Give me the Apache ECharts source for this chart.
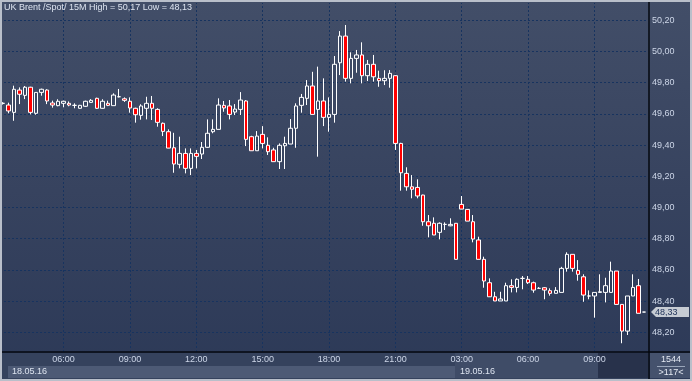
<!DOCTYPE html>
<html><head><meta charset="utf-8">
<script src="https://cdn.jsdelivr.net/npm/echarts@6/dist/echarts.min.js"></script>
<style>
html,body{margin:0;padding:0;background:#b9bfca;}
#c{width:692px;height:381px;background:linear-gradient(to bottom,#424e68 0%,#37435f 50%,#2c3957 100%);}
</style></head><body><div id="c"></div>
<script>
const chartTitle = 'UK Brent /Spot/ 15M High = 50,17 Low = 48,13';
const sessions = [{date:'18.05', start:'03:15', bars:82}, {date:'19.05', start:'02:45', bars:35}];
const dayLabels = ['18.05.16', '19.05.16'];
const timeTickIdx = [11, 23, 35, 47, 59, 71, 83, 95, 107];
const priceTicks = [48.2, 48.4, 48.6, 48.8, 49.0, 49.2, 49.4, 49.6, 49.8, 50.0, 50.2];
const priceTickLabels = ['48,20','48,40','48,60','48,80','49,00','49,20','49,40','49,60','49,80','50,00','50,20'];
const lastPriceLabel = '48,33';
const barCountText = '1544';
const visibleText = '>117<';

const open = [49.668,49.657,49.610,49.753,49.719,49.771,49.604,49.738,49.753,49.670,49.653,49.668,49.668,49.655,49.636,49.649,49.674,49.700,49.636,49.668,
49.653,49.710,49.697,49.681,49.636,49.591,49.636,49.668,49.629,49.540,49.486,49.383,49.277,49.347,49.251,49.347,49.343,49.386,49.486,49.501,
49.655,49.651,49.612,49.629,49.683,49.454,49.364,49.469,49.399,49.369,49.294,49.396,49.407,49.508,49.655,49.700,49.779,49.629,49.683,49.578,
49.597,49.928,50.099,49.828,49.956,49.978,49.845,49.918,49.828,49.813,49.828,49.845,49.411,49.219,49.133,49.129,49.080,48.909,48.899,48.841,
48.892,48.883,48.899,49.020,48.988,48.909,48.792,48.668,48.518,48.428,48.401,48.401,48.499,48.488,48.546,48.540,48.518,48.482,48.486,48.467,
48.450,48.456,48.610,48.700,48.597,48.556,48.433,48.433,48.456,48.456,48.456,48.593,48.379,48.208,48.433,48.499,48.330];
const close = [49.668,49.619,49.758,49.726,49.771,49.610,49.738,49.758,49.683,49.657,49.681,49.681,49.657,49.655,49.655,49.681,49.687,49.636,49.681,49.655,
49.721,49.710,49.687,49.638,49.595,49.651,49.668,49.636,49.546,49.488,49.381,49.279,49.347,49.251,49.347,49.328,49.386,49.476,49.501,49.657,
49.638,49.597,49.631,49.689,49.437,49.364,49.458,49.411,49.358,49.294,49.399,49.411,49.508,49.651,49.706,49.779,49.597,49.683,49.578,49.597,
49.918,50.099,49.828,49.956,49.978,49.845,49.918,49.838,49.813,49.828,49.860,49.411,49.223,49.133,49.117,49.074,48.909,48.883,48.824,48.899,
48.892,48.892,48.668,48.990,48.913,48.798,48.668,48.529,48.428,48.401,48.414,48.499,48.488,48.540,48.546,48.518,48.471,48.482,48.471,48.450,
48.469,48.610,48.700,48.610,48.572,48.439,48.433,48.456,48.460,48.499,48.593,48.379,48.208,48.433,48.488,48.322,48.330];
const low = [49.660,49.604,49.556,49.663,49.695,49.597,49.595,49.717,49.663,49.640,49.649,49.642,49.649,49.636,49.634,49.645,49.672,49.632,49.634,49.650,
49.653,49.706,49.677,49.608,49.544,49.563,49.565,49.561,49.518,49.458,49.380,49.223,49.251,49.219,49.208,49.251,49.311,49.383,49.476,49.501,
49.614,49.565,49.593,49.593,49.394,49.364,49.364,49.379,49.337,49.294,49.247,49.247,49.407,49.383,49.608,49.657,49.597,49.326,49.522,49.486,
49.544,49.849,49.807,49.796,49.864,49.796,49.811,49.807,49.774,49.785,49.768,49.369,49.108,49.108,49.059,49.059,48.883,48.809,48.824,48.796,
48.856,48.880,48.668,48.990,48.913,48.777,48.668,48.486,48.428,48.401,48.401,48.401,48.456,48.456,48.476,48.510,48.454,48.478,48.412,48.435,
48.450,48.456,48.589,48.589,48.531,48.396,48.412,48.294,48.456,48.392,48.456,48.379,48.130,48.183,48.433,48.322,48.330];
const high = [49.675,49.672,49.781,49.770,49.779,49.774,49.740,49.762,49.758,49.685,49.694,49.685,49.680,49.668,49.658,49.685,49.695,49.704,49.694,49.685,
49.732,49.760,49.706,49.706,49.640,49.662,49.710,49.715,49.636,49.545,49.501,49.479,49.454,49.379,49.379,49.369,49.420,49.565,49.565,49.700,
49.683,49.689,49.663,49.740,49.689,49.460,49.490,49.522,49.450,49.383,49.411,49.454,49.567,49.668,49.728,49.817,49.870,49.903,49.828,49.706,
49.971,50.131,50.170,49.995,50.010,50.059,49.946,49.978,49.877,49.880,49.881,49.848,49.415,49.258,49.208,49.181,49.082,48.952,48.937,48.905,
48.905,48.931,48.900,49.074,48.990,48.952,48.813,48.685,48.546,48.460,48.460,48.518,48.540,48.546,48.561,48.561,48.525,48.490,48.490,48.482,
48.490,48.620,48.713,48.700,48.663,48.572,48.469,48.456,48.572,48.550,48.653,48.593,48.379,48.433,48.572,48.542,48.330];

const cats = [];
sessions.forEach(s => {
  const p = s.start.split(':').map(Number);
  const t0 = p[0] * 60 + p[1];
  for (let k = 0; k < s.bars; k++) {
    const t = t0 + 15 * k;
    cats.push(s.date + ' ' + String(Math.floor(t / 60)).padStart(2, '0') + ':' + String(t % 60).padStart(2, '0'));
  }
});
const ohlc = open.map((o, i) => [o, close[i], low[i], high[i]]);

const FONT = 'Liberation Sans, Arial, sans-serif';
const chart = echarts.init(document.getElementById('c'), null, {renderer: 'canvas'});
chart.setOption({
  animation: false,
  backgroundColor: 'transparent',
  title: {text: chartTitle, left: 4, top: 3, padding: 0,
    textStyle: {color: '#dde4f0', fontSize: 9, fontWeight: 'normal', fontFamily: FONT}},
  grid: {left: 0, right: 45, top: 3, bottom: 29},
  xAxis: {type: 'category', data: cats, boundaryGap: true, z: 10,
    axisLine: {show: false}, axisTick: {show: false}, splitLine: {show: false},
    axisLabel: {interval: (i) => timeTickIdx.indexOf(i) >= 0, formatter: v => v.slice(6),
      color: '#cdd6e8', fontSize: 9, fontFamily: FONT, margin: 3}},
  yAxis: {type: 'value', min: 48.074, max: 50.311, show: false},
  series: [
    {type: 'line', data: cats.map(() => null), z: 1, silent: true, showSymbol: false,
      markLine: {silent: true, z: 1, symbol: ['none', 'none'], animation: false,
        lineStyle: {color: '#17335f', type: [2, 2], width: 1},
        label: {position: 'end', distance: 5, color: '#cdd6e8', fontSize: 9, fontFamily: FONT},
        emphasis: {disabled: true},
        data: priceTicks.map((v, k) => ({yAxis: v, label: {formatter: priceTickLabels[k]}}))
          .concat(timeTickIdx.map(i => ({xAxis: i, label: {show: false}})))}},
    {type: 'candlestick', z: 4, data: ohlc, barWidth: 4,
      itemStyle: {color: 'rgba(0,0,0,0)', color0: '#ff0000', borderColor: '#ffffff',
        borderColor0: '#ffffff', borderColorDoji: '#ffffff', borderWidth: 1}}
  ]
});

const py = chart.convertToPixel({yAxisIndex: 0}, close[close.length - 1]);
chart.setOption({
  graphic: [
    {type: 'rect', z: 1, shape: {x: 2, y: 353, width: 647, height: 26}, style: {fill: '#35425d'}},
    {type: 'rect', z: 1, shape: {x: 8, y: 366, width: 447, height: 12}, style: {fill: '#4d5a75'}},
    {type: 'rect', z: 1, shape: {x: 455, y: 353, width: 143, height: 25}, style: {fill: '#3f4c67'}},
    {type: 'rect', z: 1, shape: {x: 598, y: 353, width: 50, height: 25}, style: {fill: '#28324b'}},
    {type: 'text', z: 11, style: {x: 12, y: 372, text: dayLabels[0], fill: '#dde4f0', font: '9px ' + FONT, verticalAlign: 'middle'}},
    {type: 'text', z: 11, style: {x: 460, y: 372, text: dayLabels[1], fill: '#dde4f0', font: '9px ' + FONT, verticalAlign: 'middle'}},
    {type: 'rect', z: 1, shape: {x: 650, y: 353, width: 40, height: 25}, style: {fill: '#45526d'}},
    {type: 'text', z: 11, style: {x: 671, y: 360, text: barCountText, fill: '#e4e9f2', font: '9px ' + FONT, align: 'center', verticalAlign: 'middle'}},
    {type: 'line', z: 11, shape: {x1: 657, y1: 366.5, x2: 685, y2: 366.5}, style: {stroke: '#9aa6ba', lineWidth: 1}},
    {type: 'text', z: 11, style: {x: 671, y: 372.5, text: visibleText, fill: '#e4e9f2', font: '9px ' + FONT, align: 'center', verticalAlign: 'middle'}},
    {type: 'polygon', z: 20, shape: {points: [[651, py], [656, py - 5], [689, py - 5], [689, py + 5], [656, py + 5]]}, style: {fill: '#c6cbd3'}},
    {type: 'text', z: 21, style: {x: 655, y: py, text: lastPriceLabel, fill: '#22345a', font: '9px ' + FONT, verticalAlign: 'middle'}},
    {type: 'line', z: 20, shape: {x1: 2, y1: 352, x2: 690, y2: 352}, style: {stroke: '#05080f', lineWidth: 1.5}},
    {type: 'line', z: 20, shape: {x1: 649, y1: 2, x2: 649, y2: 379}, style: {stroke: '#05080f', lineWidth: 1.5}},
    {type: 'rect', z: 20, shape: {x: 1, y: 1, width: 690, height: 379}, style: {fill: 'none', stroke: '#b9bfca', lineWidth: 2}}
  ]
});
</script></body></html>
